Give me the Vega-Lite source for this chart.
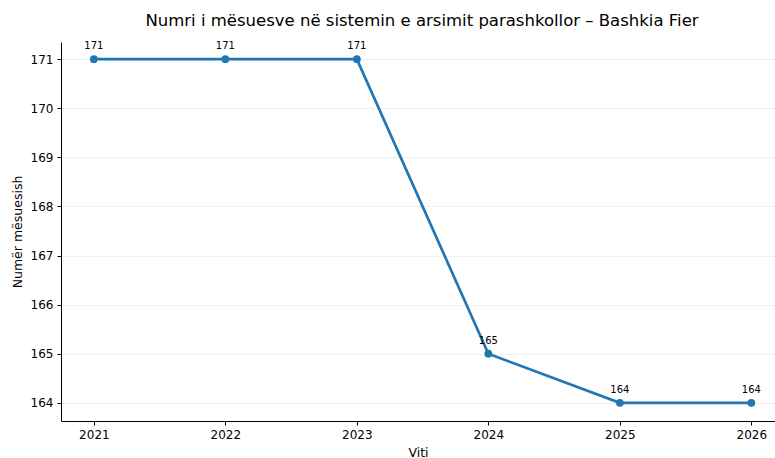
{
  "$schema": "https://vega.github.io/schema/vega-lite/v6.json",
  "autosize": {"type": "none"},
  "width": 714,
  "height": 379,
  "padding": {"left": 61, "top": 42, "right": 0, "bottom": 37},
  "background": "white",
  "title": {
    "text": "Numri i mësuesve në sistemin e arsimit parashkollor – Bashkia Fier",
    "font": "DejaVu Sans",
    "fontSize": 16.5,
    "fontWeight": "normal",
    "color": "black",
    "offset": 12,
    "dx": 4
  },
  "config": {
    "view": {"stroke": null},
    "axis": {
      "labelFont": "DejaVu Sans",
      "titleFont": "DejaVu Sans",
      "labelFontSize": 12,
      "titleFontSize": 12.5,
      "titleFontWeight": "normal",
      "labelColor": "black",
      "titleColor": "black",
      "domainColor": "black",
      "tickColor": "black",
      "tickSize": 4
    }
  },
  "data": {
    "values": [
      {"year": 2021, "value": 171},
      {"year": 2022, "value": 171},
      {"year": 2023, "value": 171},
      {"year": 2024, "value": 165},
      {"year": 2025, "value": 164},
      {"year": 2026, "value": 164}
    ]
  },
  "encoding": {
    "x": {
      "field": "year",
      "type": "quantitative",
      "scale": {"domain": [2020.75, 2026.18], "nice": false, "zero": false},
      "axis": {"values": [2021, 2022, 2023, 2024, 2025, 2026], "format": "d", "grid": false, "title": "Viti", "titlePadding": 6, "labelPadding": 4}
    },
    "y": {
      "field": "value",
      "type": "quantitative",
      "scale": {"domain": [163.63, 171.35], "nice": false, "zero": false},
      "axis": {"values": [164, 165, 166, 167, 168, 169, 170, 171], "grid": true, "gridColor": "#ebebeb", "gridWidth": 0.8, "title": "Numër mësuesish", "titlePadding": 6, "labelPadding": 4}
    }
  },
  "layer": [
    {"mark": {"type": "line", "color": "#1f77b4", "strokeWidth": 2.7}},
    {"mark": {"type": "point", "filled": true, "color": "#1f77b4", "size": 60, "opacity": 1}},
    {
      "mark": {"type": "text", "dy": -13, "font": "DejaVu Sans", "fontSize": 10, "color": "black"},
      "encoding": {"text": {"field": "value", "type": "quantitative"}}
    }
  ]
}
